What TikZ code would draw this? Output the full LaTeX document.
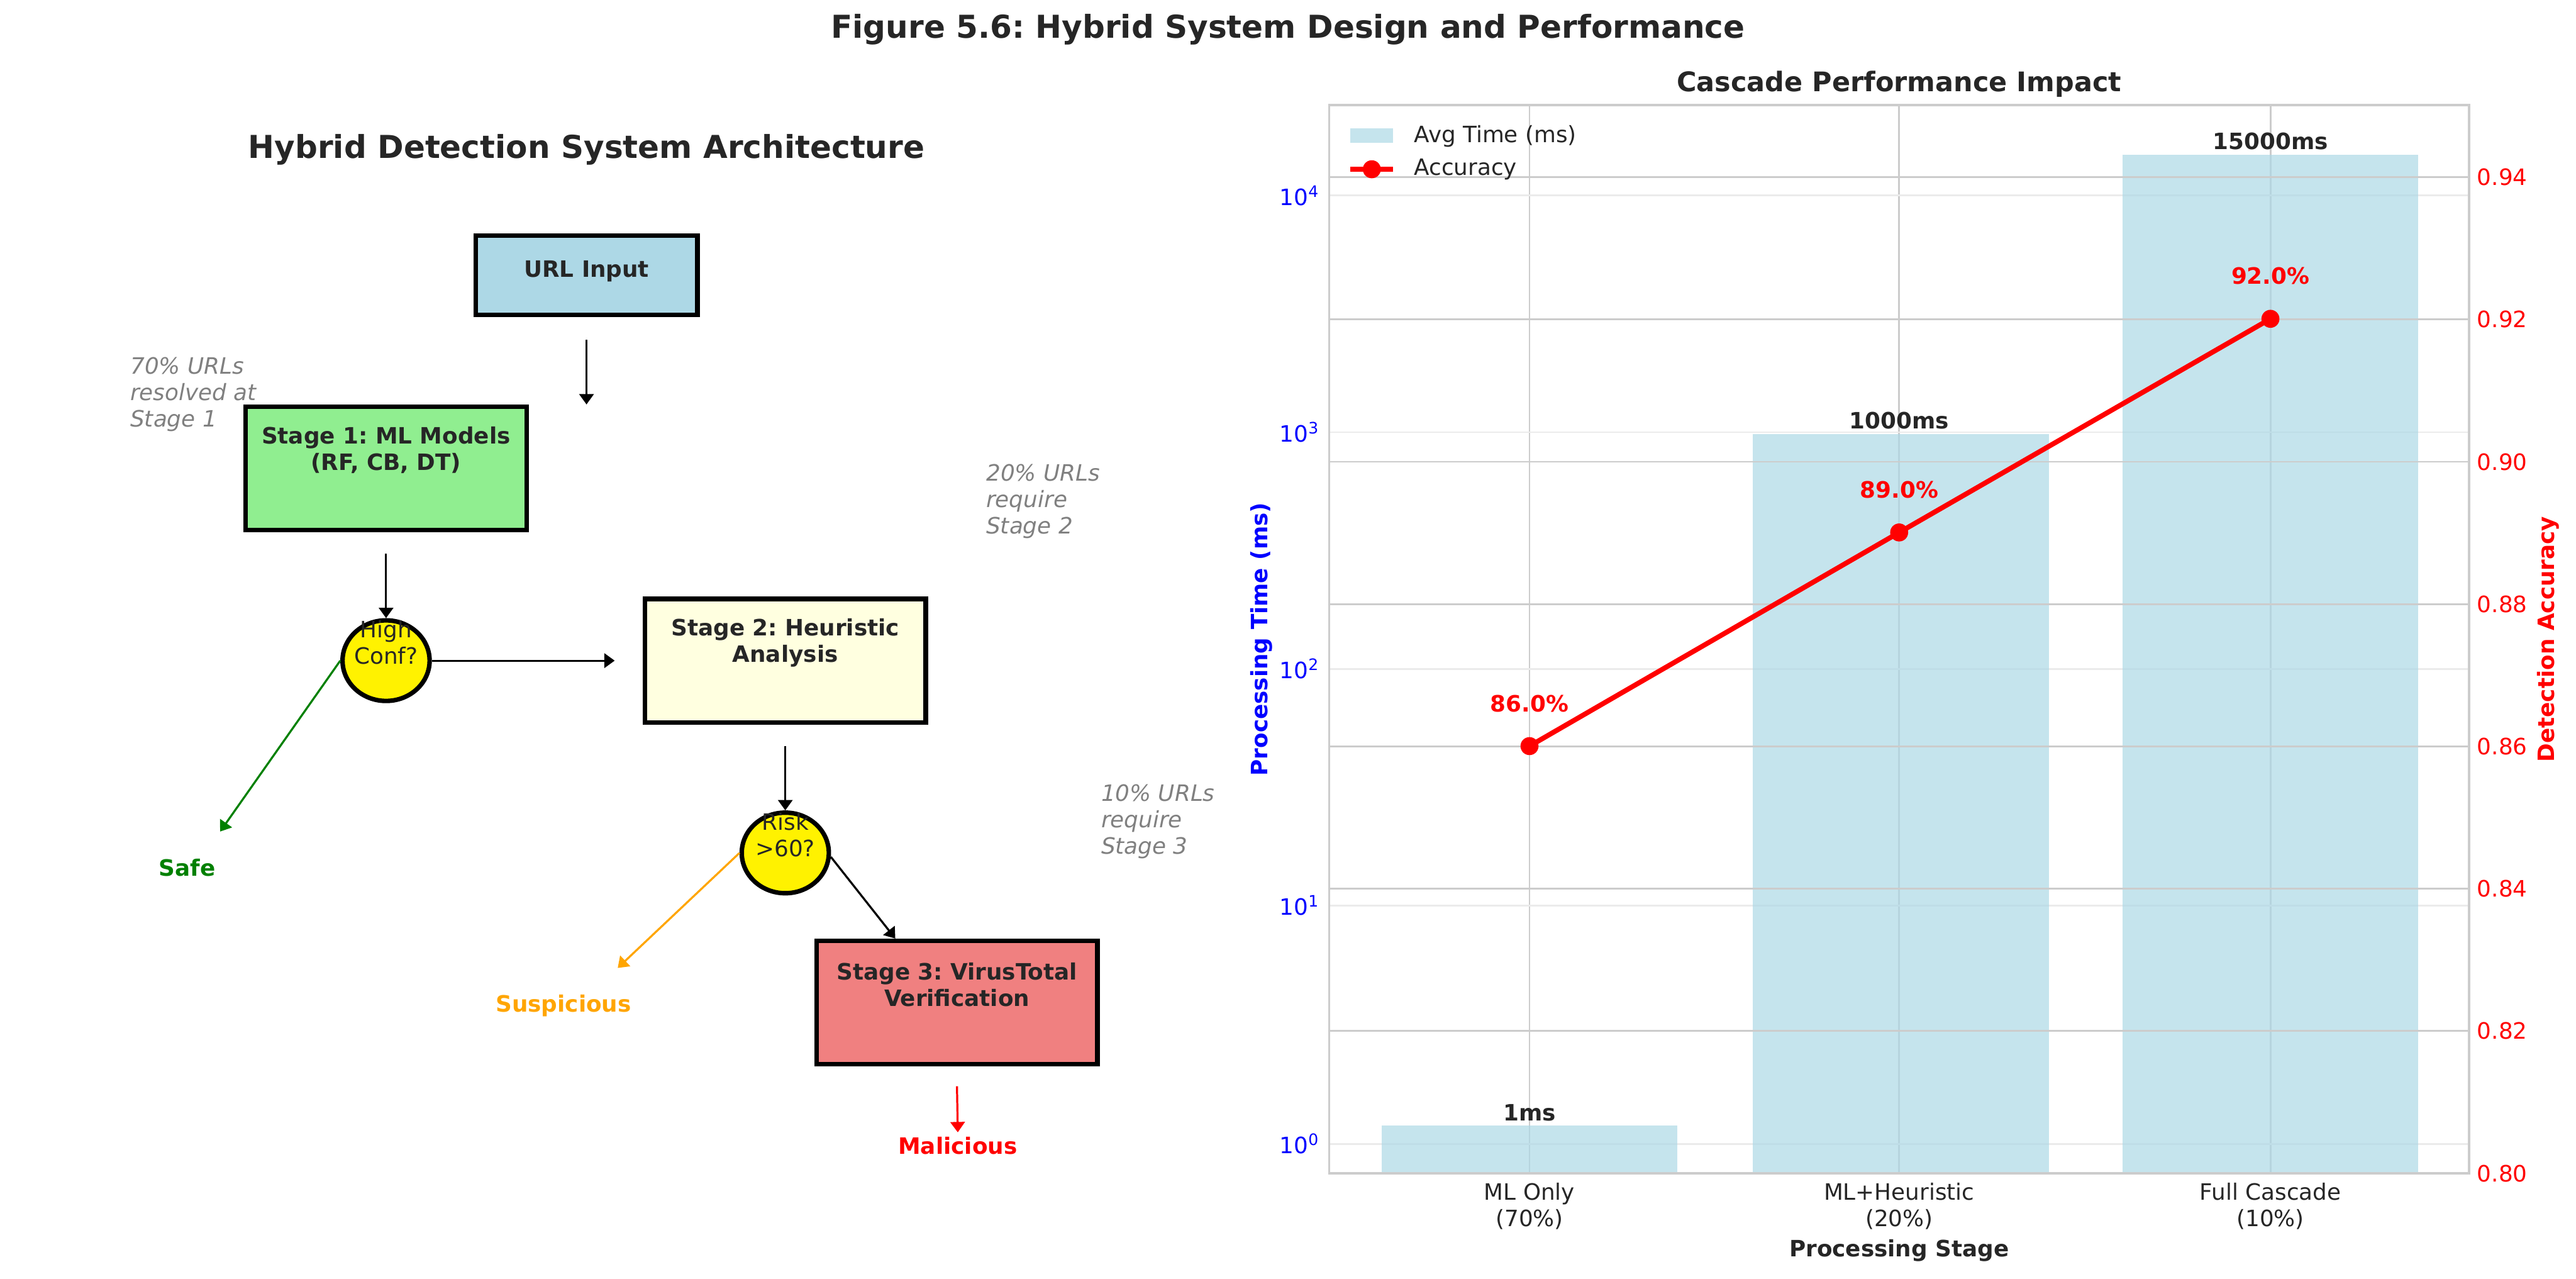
\documentclass[tikz,border=0pt]{standalone}
\usepackage{fontspec}
\setmainfont{DejaVu Sans}
\usepackage{xcolor}
\usetikzlibrary{arrows.meta,shapes.geometric}

\definecolor{urlblue}{HTML}{ADD8E6}
\definecolor{mlgreen}{HTML}{90EE90}
\definecolor{heuryellow}{HTML}{FFFFE0}
\definecolor{vtcoral}{HTML}{F08080}
\definecolor{safegreen}{HTML}{008000}
\definecolor{susporange}{HTML}{FFA500}
\definecolor{txtdark}{HTML}{262626}
\definecolor{gridgray}{HTML}{CCCCCC}
\definecolor{gridlight}{HTML}{EBEBEB}
\definecolor{notegray}{HTML}{808080}

\tikzset{
  stagebox/.style={draw, rectangle, line width=2pt, inner sep=0pt, minimum width=124.8pt, minimum height=54.8pt},
  decision/.style={draw, ellipse, fill=yellow, line width=2pt, inner sep=0pt, minimum width=38.7pt, minimum height=35.8pt},
  boxtext/.style={align=center, font=\fontsize{10}{11.7}\selectfont\bfseries},
  dectext/.style={align=center, font=\fontsize{10}{11.7}\selectfont},
  flow/.style={-{Triangle[width=6.4pt,length=4.6pt]}, line width=0.9pt},
  note/.style={align=left, anchor=west, text=notegray, font=\fontsize{10}{11.7}\selectfont\itshape},
  outcome/.style={font=\fontsize{10}{11.7}\selectfont\bfseries}
}

\begin{document}
\frenchspacing
\begin{tikzpicture}[x=0.73pt, y=-0.73pt, font=\fontsize{10}{11.7}\selectfont, text=txtdark]
    \useasboundingbox (0,0) rectangle (1568,778);

    % Titles
    \node[font=\fontsize{14}{16}\selectfont\bfseries] (figtitle) at (784,18) {Figure 5.6: Hybrid System Design and Performance};
    \node[font=\fontsize{14}{16}\selectfont\bfseries] (archtitle) at (357,91) {Hybrid Detection System Architecture};

    % Nodes
    \node[stagebox, fill=urlblue, minimum width=98.6pt, minimum height=35pt] (url) at (357,167.5) {};
    \node[boxtext] (urltext) at (357,165) {URL Input};
    \node[stagebox, fill=mlgreen] (stageone) at (235,285) {};
    \node[boxtext] (stageonetext) at (235,274) {Stage 1: ML Models\\(RF, CB, DT)};
    \node[stagebox, fill=heuryellow] (stagetwo) at (478,402) {};
    \node[boxtext] (stagetwotext) at (478,391) {Stage 2: Heuristic\\Analysis};
    \node[stagebox, fill=vtcoral] (stagethree) at (582.5,610) {};
    \node[boxtext] (stagethreetext) at (582.5,599) {Stage 3: VirusTotal\\Verification};

    \node[decision] (highconf) at (235,402) {};
    \node[dectext] (highconftext) at (235,391) {High\\Conf?};
    \node[decision] (risk) at (478,519) {};
    \node[dectext] (risktext) at (478,508) {Risk\\>60?};

    \node[outcome, text=safegreen] (safe) at (114,528) {Safe};
    \node[outcome, text=susporange] (suspicious) at (343,612) {Suspicious};
    \node[outcome, text=red] (malicious) at (583,697) {Malicious};

    \node[note] (noteone) at (74.5,240) {70\% URLs\\resolved at\\Stage 1};
    \node[note] (notetwo) at (595.5,305) {20\% URLs\\require\\Stage 2};
    \node[note] (notethree) at (665.5,500) {10\% URLs\\require\\Stage 3};

    \coordinate (safeend) at (134,506);
    \coordinate (suspend) at (376,589);
    \coordinate (malend) at (583,689);

    % Connections
    \draw[flow] ([yshift=-10.2pt]url.south) -- (url.south |- stageone.north);
    \draw[flow] ([yshift=-9.5pt]stageone.south) -- (highconf.north);
    \draw[flow] (highconf.east) -- ([xshift=-12.4pt]stagetwo.west);
    \draw[flow] ([yshift=-9.5pt]stagetwo.south) -- (risk.north);
    \draw[flow] (risk.-5) -- ([xshift=-27.4pt]stagethree.north);
    \draw[flow, safegreen] (highconf.west) -- (safeend);
    \draw[flow, susporange] (risk.west) -- (suspend);
    \draw[flow, red] ([yshift=-8.8pt]stagethree.south) -- (malend);

    % Chart: grid and bars
    \node[font=\fontsize{12}{14}\selectfont\bfseries] (charttitle) at (1156,51) {Cascade Performance Impact};
    \foreach \x in {931,1156,1382}
        \draw[gridgray, line width=0.8pt] (\x,64) -- (\x,714);
    \foreach \y in {119,263,407,551,696}
        \draw[gridlight, line width=0.8pt] (809,\y) -- (1503,\y);
    \fill[urlblue, fill opacity=0.7] (841,685) rectangle (1021,714);
    \fill[urlblue, fill opacity=0.7] (1067,264) rectangle (1247,714);
    \fill[urlblue, fill opacity=0.7] (1292,94) rectangle (1472,714);
    \foreach \k in {1,...,7}
        \draw[gridgray, line width=0.8pt] (809,{714-\k*86.6}) -- (1503,{714-\k*86.6});
    \draw[gridgray, line width=1pt] (809,64) rectangle (1503,714);

    % Accuracy line
    \draw[red, line width=2.2pt] (931,454) -- (1156,324) -- (1382,194);
    \foreach \x/\y in {931/454,1156/324,1382/194}
        \fill[red] (\x,\y) circle (4pt);

    % Value labels
    \node[outcome] (barone) at (931,677) {1ms};
    \node[outcome] (bartwo) at (1156,256) {1000ms};
    \node[outcome] (barthree) at (1382,86) {15000ms};
    \node[outcome, text=red] (accone) at (931,428) {86.0\%};
    \node[outcome, text=red] (acctwo) at (1156,298) {89.0\%};
    \node[outcome, text=red] (accthree) at (1382,168) {92.0\%};

    % Axes labels
    \foreach \k/\y in {0/696,1/551,2/407,3/263,4/119}
        \node[anchor=east, text=blue] at (808,\y) {10\textsuperscript{\k}};
    \foreach \v [count=\k from 0] in {0.80,0.82,0.84,0.86,0.88,0.90,0.92,0.94}
        \node[anchor=west, text=red] at (1503,{714-\k*86.6}) {\v};
    \node[align=center] (xone) at (931,734) {ML Only\\(70\%)};
    \node[align=center] (xtwo) at (1156,734) {ML+Heuristic\\(20\%)};
    \node[align=center] (xthree) at (1382,734) {Full Cascade\\(10\%)};
    \node[outcome] (xlabel) at (1156,761) {Processing Stage};
    \node[outcome, rotate=90, text=blue] (ylabel) at (768,389) {Processing Time (ms)};
    \node[outcome, rotate=90, text=red] (yrlabel) at (1551,389) {Detection Accuracy};

    % Legend
    \fill[urlblue, fill opacity=0.7] (822,78) rectangle (848,87);
    \node[anchor=west] (legtime) at (856,83) {Avg Time (ms)};
    \draw[red, line width=2.2pt] (822,103) -- (848,103);
    \fill[red] (835,103) circle (4pt);
    \node[anchor=west] (legacc) at (856,103) {Accuracy};
\end{tikzpicture}
\end{document}
